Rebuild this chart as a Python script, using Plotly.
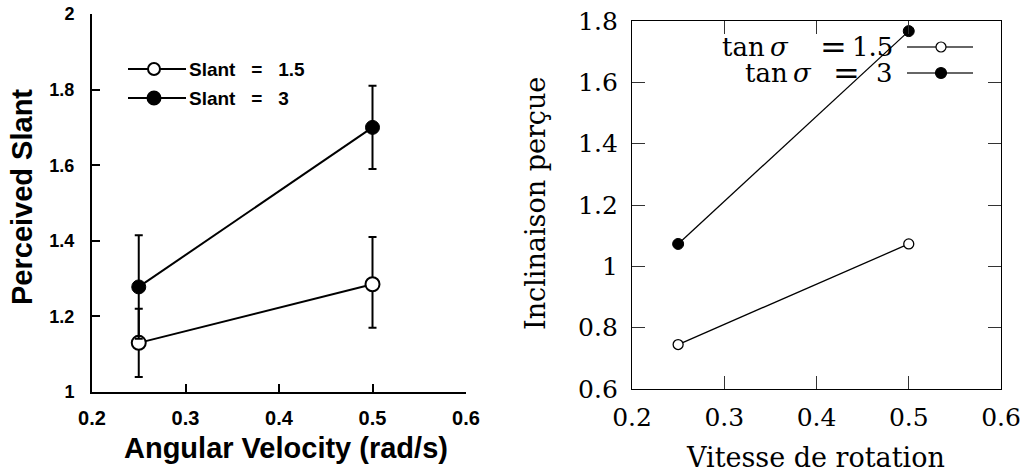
import plotly.graph_objects as go

# ---------------- data ----------------
# Left panel (original figure)
velocity = [0.25, 0.5]
slant15_mean = [1.13, 1.285]
slant15_err_plus = [0.09, 0.125]
slant15_err_minus = [0.09, 0.115]
slant3_mean = [1.278, 1.70]
slant3_err_plus = [0.137, 0.11]
slant3_err_minus = [0.137, 0.11]
left_xticks = [0.2, 0.3, 0.4, 0.5, 0.6]
left_yticks = [1, 1.2, 1.4, 1.6, 1.8, 2]
left_legend = ["Slant\u00a0\u00a0\u00a0=\u00a0\u00a0\u00a01.5", "Slant\u00a0\u00a0\u00a0=\u00a0\u00a0\u00a03"]

# Right panel (model)
vitesse = [0.25, 0.5]
tan15_pred = [0.745, 1.073]
tan3_pred = [1.073, 1.767]
right_xticks = [0.2, 0.3, 0.4, 0.5, 0.6]
right_yticks = [0.6, 0.8, 1.0, 1.2, 1.4, 1.6, 1.8]
right_yticklabels = ["0.6", "0.8", "1", "1.2", "1.4", "1.6", "1.8"]
right_legend_values = ["1.5", "3"]

W, H = 1023, 474
def px(x):
    return x / W
def py(y):
    return 1 - y / H

sans = "Liberation Sans, Arial, sans-serif"
serif = "DejaVu Serif, serif"

fig = go.Figure()

# ---- left panel traces ----
fig.add_trace(go.Scatter(
    x=velocity, y=slant15_mean, mode="lines+markers", xaxis="x", yaxis="y",
    line=dict(color="black", width=2),
    marker=dict(symbol="circle", size=14, color="white", line=dict(color="black", width=2)),
    error_y=dict(type="data", array=slant15_err_plus, arrayminus=slant15_err_minus,
                 color="black", thickness=2, width=4),
    showlegend=False))
fig.add_trace(go.Scatter(
    x=velocity, y=slant3_mean, mode="lines+markers", xaxis="x", yaxis="y",
    line=dict(color="black", width=2),
    marker=dict(symbol="circle", size=14, color="black", line=dict(color="black", width=1)),
    error_y=dict(type="data", array=slant3_err_plus, arrayminus=slant3_err_minus,
                 color="black", thickness=2, width=4),
    showlegend=False))

# ---- right panel traces ----
fig.add_trace(go.Scatter(
    x=vitesse, y=tan15_pred, mode="lines+markers", xaxis="x2", yaxis="y2",
    line=dict(color="black", width=1.3),
    marker=dict(symbol="circle", size=10, color="white", line=dict(color="black", width=1.3)),
    cliponaxis=False, showlegend=False))
fig.add_trace(go.Scatter(
    x=vitesse, y=tan3_pred, mode="lines+markers", xaxis="x2", yaxis="y2",
    line=dict(color="black", width=1.3),
    marker=dict(symbol="circle", size=11, color="black", line=dict(color="black", width=1)),
    cliponaxis=False, showlegend=False))

# ---- legend keys on a pixel overlay axis ----
left_key_rows = [69, 98]
right_key_rows = [47, 73]
key_styles = [("white", 12, 10), ("black", 13, 11)]
for i in range(2):
    fill, sz_l, sz_r = key_styles[i]
    fig.add_trace(go.Scatter(
        x=[128, 154, 186], y=[left_key_rows[i]] * 3, mode="lines", xaxis="x3", yaxis="y3",
        line=dict(color="black", width=2), showlegend=False, hoverinfo="skip"))
    fig.add_trace(go.Scatter(
        x=[154], y=[left_key_rows[i]], mode="markers", xaxis="x3", yaxis="y3",
        marker=dict(symbol="circle", size=sz_l, color=fill, line=dict(color="black", width=2)),
        showlegend=False, hoverinfo="skip"))
    fig.add_trace(go.Scatter(
        x=[907, 941, 973], y=[right_key_rows[i]] * 3, mode="lines", xaxis="x3", yaxis="y3",
        line=dict(color="#333", width=1.3), showlegend=False, hoverinfo="skip"))
    fig.add_trace(go.Scatter(
        x=[941], y=[right_key_rows[i]], mode="markers", xaxis="x3", yaxis="y3",
        marker=dict(symbol="circle", size=sz_r, color=fill, line=dict(color="black", width=1.2)),
        showlegend=False, hoverinfo="skip"))

annotations = []
# right legend label pieces: "tan σ" right edge, "=" centre, value right edge
tan_right = [790, 813]
eq_centre = [833, 846]
for i in range(2):
    annotations.append(dict(text=left_legend[i], x=px(187), y=py(left_key_rows[i]),
                            xref="paper", yref="paper", xanchor="left", yanchor="middle",
                            showarrow=False, font=dict(family=sans, size=19, color="black", weight="bold")))
    lf = dict(family=serif, size=26, color="black")
    annotations.append(dict(text="tan\u2009<i>σ</i>", x=px(tan_right[i]), y=py(right_key_rows[i]),
                            xref="paper", yref="paper", xanchor="right", yanchor="middle",
                            showarrow=False, font=lf, borderpad=0))
    annotations.append(dict(text="=", x=px(eq_centre[i]), y=py(right_key_rows[i]),
                            xref="paper", yref="paper", xanchor="center", yanchor="middle",
                            showarrow=False, font=dict(family=serif, size=32, color="black"), borderpad=0))
    annotations.append(dict(text=right_legend_values[i], x=px(894), y=py(right_key_rows[i]),
                            xref="paper", yref="paper", xanchor="right", yanchor="middle",
                            showarrow=False, font=lf, borderpad=0))

# axis titles
annotations += [
    dict(text="Perceived Slant", x=px(22), y=py(197), xref="paper", yref="paper",
         textangle=-90, showarrow=False, xanchor="center", yanchor="middle",
         font=dict(family=sans, size=29, color="black", weight="bold")),
    dict(text="Angular Velocity (rad/s)", x=px(286), y=py(448), xref="paper", yref="paper",
         showarrow=False, xanchor="center", yanchor="middle",
         font=dict(family=sans, size=29, color="black", weight="bold")),
    dict(text="Inclinaison perçue", x=px(535), y=py(204), xref="paper", yref="paper",
         textangle=-90, showarrow=False, xanchor="center", yanchor="middle",
         font=dict(family=serif, size=27, color="black")),
    dict(text="Vitesse de rotation", x=px(815), y=py(457), xref="paper", yref="paper",
         showarrow=False, xanchor="center", yanchor="middle",
         font=dict(family=serif, size=27, color="black")),
]

left_axis_common = dict(showgrid=False, zeroline=False, showline=True, linecolor="black",
                        linewidth=2, ticks="inside", tickcolor="black", tickwidth=2,
                        ticklen=8, mirror=False, automargin=False)
right_axis_common = dict(showgrid=False, zeroline=False, showline=True, linecolor="black",
                         linewidth=1.3, ticks="inside", tickcolor="#333", tickwidth=1.3,
                         ticklen=13, mirror="ticks", automargin=False)

fig.update_layout(
    width=W, height=H, margin=dict(l=0, r=0, t=0, b=0, autoexpand=False),
    paper_bgcolor="white", plot_bgcolor="rgba(0,0,0,0)",
    xaxis=dict(domain=[px(92), px(466)], range=[0.2, 0.6], anchor="y",
               tickvals=left_xticks, ticktext=["0.2", "0.3", "0.4", "0.5", "0.6"],
               tickfont=dict(family=sans, size=20, color="black", weight="bold"),
               ticklabelstandoff=7, **left_axis_common),
    yaxis=dict(domain=[py(392), py(14)], range=[1, 2], anchor="x",
               tickvals=left_yticks, ticktext=["1", "1.2", "1.4", "1.6", "1.8", "2"],
               tickfont=dict(family=sans, size=18, color="black", weight="bold"),
               ticklabelstandoff=12, **left_axis_common),
    xaxis2=dict(domain=[px(632), px(1001)], range=[0.2, 0.6], anchor="y2",
                tickvals=right_xticks, ticktext=["0.2", "0.3", "0.4", "0.5", "0.6"],
                tickfont=dict(family=serif, size=25, color="black"),
                ticklabelstandoff=6, **right_axis_common),
    yaxis2=dict(domain=[py(389), py(21)], range=[0.6, 1.8], anchor="x2",
                tickvals=right_yticks, ticktext=right_yticklabels,
                tickfont=dict(family=serif, size=25, color="black"),
                ticklabelstandoff=8, **right_axis_common),
    xaxis3=dict(domain=[0, 1], range=[0, W], visible=False, anchor="y3", fixedrange=True, automargin=False),
    yaxis3=dict(domain=[0, 1], range=[H, 0], visible=False, anchor="x3", fixedrange=True, automargin=False),
    annotations=annotations,
    showlegend=False,
)

fig.write_html("out.html", config={"displayModeBar": False},
               post_script="document.body.style.margin='0px';document.body.style.padding='0px';")
